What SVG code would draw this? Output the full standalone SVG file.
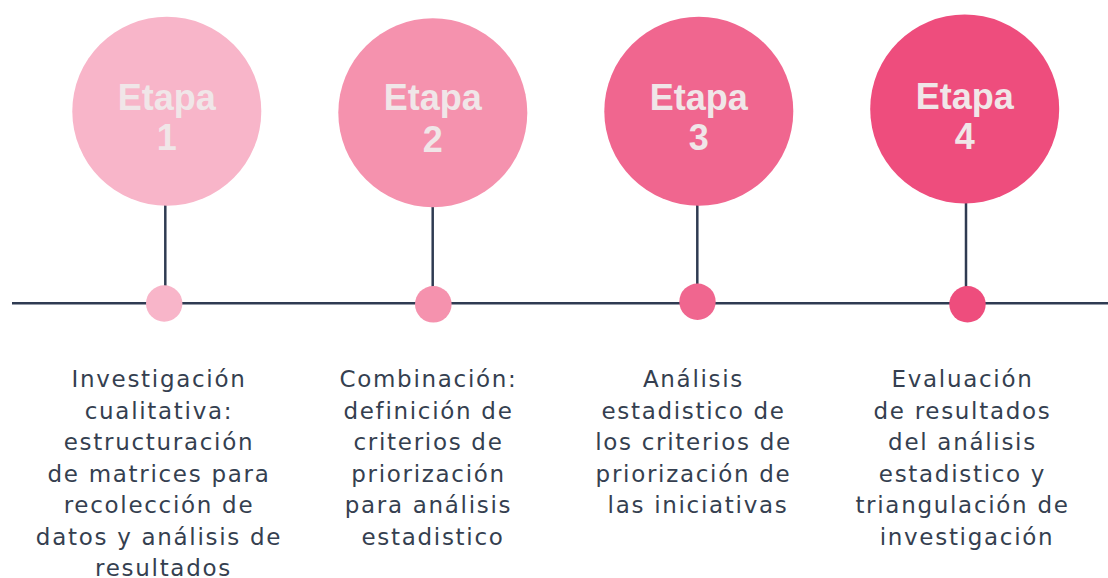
<svg xmlns="http://www.w3.org/2000/svg" width="1108" height="578" viewBox="0 0 1108 578">
<style>
.ln{stroke:#2F3B52;stroke-width:2.5;fill:none}
.vl{stroke:#2F3B52;stroke-width:2.5;fill:none}
.et{font-family:"Liberation Sans",Arial,sans-serif;font-weight:bold;font-size:36px;fill:#F0E6E8;text-anchor:middle}
.tx{font-family:"DejaVu Sans","Liberation Sans",sans-serif;font-size:23px;fill:#353F50;text-anchor:middle;letter-spacing:1.7px}
</style>
<rect width="1108" height="578" fill="#FFFFFF"/>
<g id="connectors">
<line class="ln" x1="12" y1="303.3" x2="1108" y2="303.3"/>
<line class="vl" x1="165.3" y1="205" x2="165.3" y2="290"/>
<line class="vl" x1="432.7" y1="207" x2="432.7" y2="290"/>
<line class="vl" x1="697.3" y1="205" x2="697.3" y2="290"/>
<line class="vl" x1="966" y1="203" x2="966" y2="290"/>
</g>
<g id="etapa1">
<circle cx="166.8" cy="111.2" r="94.5" fill="#F8B5C9"/>
<text class="et" x="166.8" y="110">Etapa</text>
<text class="et" x="166.8" y="150">1</text>
<circle cx="164.2" cy="303.5" r="18.2" fill="#F8B5C9"/>
<text class="tx" x="163.5" y="387">
<tspan x="163.5" y="387">Investigación</tspan>
<tspan x="163.5" y="418.6">cualitativa:</tspan>
<tspan x="163.5" y="450.2">estructuración</tspan>
<tspan x="163.5" y="481.8">de matrices para</tspan>
<tspan x="163.5" y="513.4">recolección de</tspan>
<tspan x="163.5" y="545">datos y análisis de</tspan>
<tspan x="163.5" y="576.3">resultados</tspan>
</text>
</g>
<g id="etapa2">
<circle cx="432.8" cy="112.8" r="94.5" fill="#F592AE"/>
<text class="et" x="432.8" y="110">Etapa</text>
<text class="et" x="432.8" y="151.5">2</text>
<circle cx="433.3" cy="304.3" r="18.3" fill="#F592AE"/>
<text class="tx" x="433" y="387">
<tspan x="433" y="387">Combinación:</tspan>
<tspan x="433" y="418.6">definición de</tspan>
<tspan x="433" y="450.2">criterios de</tspan>
<tspan x="433" y="481.8">priorización</tspan>
<tspan x="433" y="513.4">para análisis</tspan>
<tspan x="433" y="545">estadistico</tspan>
</text>
</g>
<g id="etapa3">
<circle cx="698.8" cy="111.3" r="94.5" fill="#F0668F"/>
<text class="et" x="698.8" y="110">Etapa</text>
<text class="et" x="698.8" y="150">3</text>
<circle cx="697.5" cy="301.7" r="18.2" fill="#F0668F"/>
<text class="tx" x="698" y="387">
<tspan x="698" y="387">Análisis</tspan>
<tspan x="698" y="418.6">estadistico de</tspan>
<tspan x="698" y="450.2">los criterios de</tspan>
<tspan x="698" y="481.8">priorización de</tspan>
<tspan x="698" y="513.4">las iniciativas</tspan>
</text>
</g>
<g id="etapa4">
<circle cx="964.7" cy="109" r="94.5" fill="#EE4D7D"/>
<text class="et" x="964.7" y="109.3">Etapa</text>
<text class="et" x="964.7" y="149">4</text>
<circle cx="967.5" cy="304.3" r="18.2" fill="#EE4D7D"/>
<text class="tx" x="967" y="387">
<tspan x="967" y="387">Evaluación</tspan>
<tspan x="967" y="418.6">de resultados</tspan>
<tspan x="967" y="450.2">del análisis</tspan>
<tspan x="967" y="481.8">estadistico y</tspan>
<tspan x="967" y="513.4">triangulación de</tspan>
<tspan x="967" y="545">investigación</tspan>
</text>
</g>
</svg>
